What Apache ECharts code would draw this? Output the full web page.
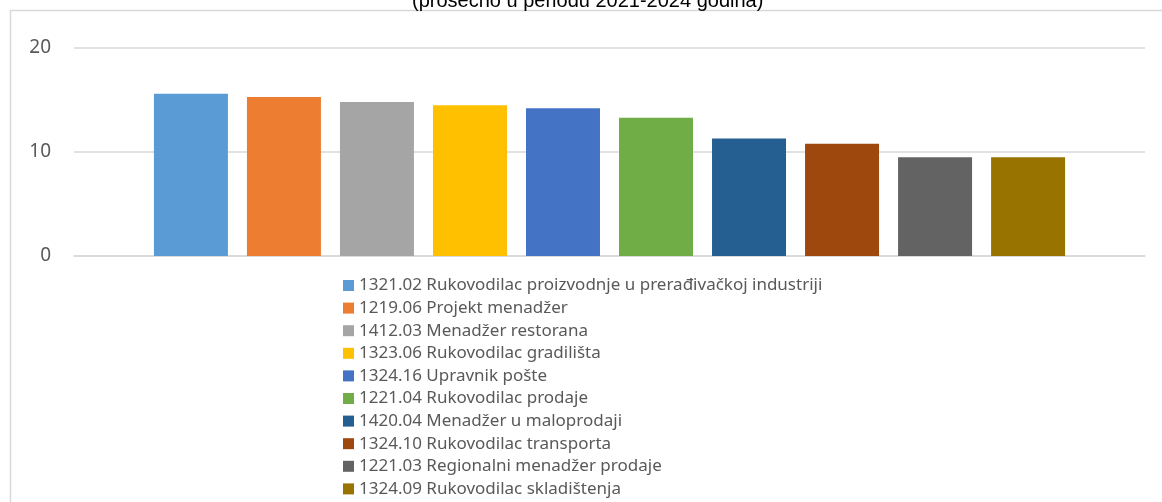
<!DOCTYPE html>
<html>
<head>
<meta charset="utf-8">
<script src="https://cdn.jsdelivr.net/npm/echarts@6/dist/echarts.min.js"></script>
<style>
  html, body { margin: 0; padding: 0; background: #fff; }
  #main { width: 1162px; height: 502px; }
</style>
</head>
<body>
<div id="main"></div>
<script>
// podaci
var naslov = '(prosečno u periodu 2021-2024 godina)';
var zanimanja = [
  '1321.02 Rukovodilac proizvodnje u prerađivačkoj industriji',
  '1219.06 Projekt menadžer',
  '1412.03 Menadžer restorana',
  '1323.06 Rukovodilac gradilišta',
  '1324.16 Upravnik pošte',
  '1221.04 Rukovodilac prodaje',
  '1420.04 Menadžer u maloprodaji',
  '1324.10 Rukovodilac transporta',
  '1221.03 Regionalni menadžer prodaje',
  '1324.09 Rukovodilac skladištenja'
];
var vrednosti = [15.6, 15.3, 14.8, 14.5, 14.2, 13.3, 11.3, 10.8, 9.5, 9.5];
var boje = ['#5b9bd5', '#ed7d31', '#a5a5a5', '#ffc000', '#4472c4', '#70ad47', '#255e91', '#9e480e', '#636363', '#997300'];
var yTicks = [0, 10, 20];

var myChart = echarts.init(document.getElementById('main'));

var series = zanimanja.map(function (ime, i) {
  return {
    name: ime,
    type: 'bar',
    data: [vrednosti[i]],
    barWidth: 74,
    barGap: '25.7%',
    itemStyle: { color: boje[i] }
  };
});

option = {
  animation: false,
  title: {
    text: naslov,
    left: 412,
    top: -9,
    padding: 0,
    textStyle: {
      fontFamily: 'Liberation Sans',
      fontSize: 20,
      fontWeight: 'normal',
      color: '#000'
    }
  },
  graphic: [{
    type: 'rect',
    shape: { x: 10.5, y: 10.5, width: 1300, height: 700 },
    style: { fill: 'none', stroke: '#d9d9d9', lineWidth: 1.5 },
    silent: true
  }],
  legend: {
    orient: 'vertical',
    left: 343,
    top: 277,
    height: 240,
    padding: 0,
    itemWidth: 11,
    itemHeight: 11,
    itemGap: 5.6,
    icon: 'rect',
    data: zanimanja,
    textStyle: {
      fontFamily: 'Noto Sans',
      fontSize: 17,
      lineHeight: 16,
      color: '#595959'
    }
  },
  grid: {
    left: 74,
    right: 17,
    top: 48,
    height: 208
  },
  xAxis: {
    type: 'category',
    data: [''],
    axisTick: { show: false },
    axisLabel: { show: false },
    axisLine: { lineStyle: { color: '#d9d9d9', width: 1.5 } }
  },
  yAxis: {
    type: 'value',
    min: yTicks[0],
    max: yTicks[yTicks.length - 1],
    interval: 10,
    axisLine: { show: false },
    axisTick: { show: false },
    axisLabel: {
      margin: 23,
      fontFamily: 'Noto Sans',
      fontSize: 19,
      color: '#595959'
    },
    splitLine: { lineStyle: { color: '#d9d9d9', width: 1.5 } }
  },
  series: series
};

myChart.setOption(option);
</script>
</body>
</html>
